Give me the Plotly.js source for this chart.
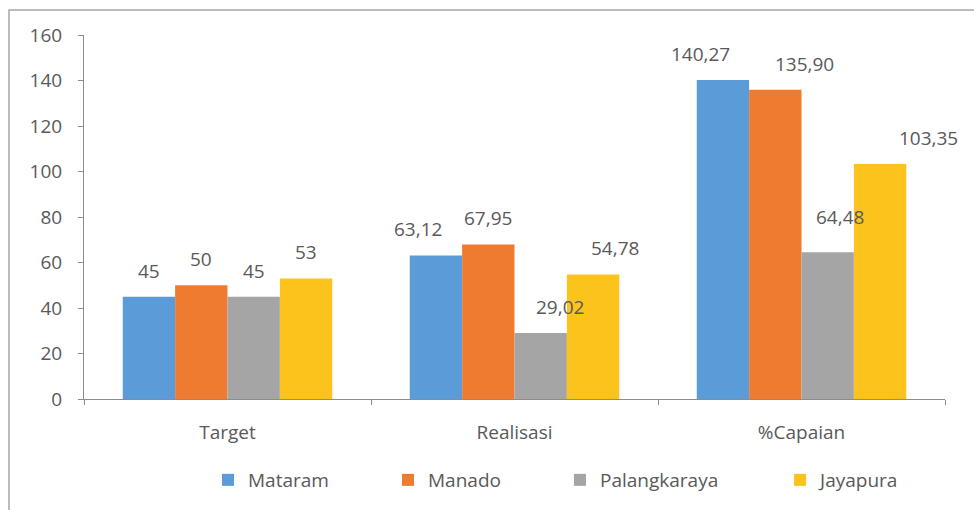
<!DOCTYPE html>
<html>
<head>
<meta charset="utf-8">
<script src="https://cdn.plot.ly/plotly-3.0.1.min.js"></script>
<style>
  body { margin: 0; background: #fff; }
  #chart { width: 974px; height: 510px; }
</style>
</head>
<body>
<div id="chart"></div>
<script>
// categories on the x axis
var categories = ['Target', 'Realisasi', '%Capaian'];

// one series per city
var mataram = [45, 63.12, 140.27];
var manado = [50, 67.95, 135.90];
var palangkaraya = [45, 29.02, 64.48];
var jayapura = [53, 54.78, 103.35];

var seriesNames = ['Mataram', 'Manado', 'Palangkaraya', 'Jayapura'];
var seriesValues = [mataram, manado, palangkaraya, jayapura];
var seriesColors = ['#5a9bd8', '#ef7b30', '#a5a5a5', '#fcc31c'];

var FONT = 'Open Sans, sans-serif';

// layout bits
var W = 974, H = 510;
var M = { l: 84, r: 29, t: 35, b: 111 };
var BARGAP = 0.27;
// Excel moved a few labels sideways (px) so they don't collide
var labelNudgeX = [[0, -18, -22], [0, 0, 29], [0, 19, 12], [0, 22, 48]];
var labelNudgeY = [[0, 0, 0], [0, 0, 0], [0, 0, 9], [0, 0, 0]];
// legend entries placed one by one (paper x)
var legendX = [0.144, 0.3531, 0.5528, 0.8084];

// Excel style labels: comma decimal, integers stay integers
function fmt(v) {
    if (Number.isInteger(v)) return String(v);
    return v.toFixed(2).replace('.', ',');
}

var plotW = W - M.l - M.r;
var barPx = plotW / categories.length * (1 - BARGAP) / seriesNames.length;

var traces = [];
var annotations = [];
seriesNames.forEach((name, i) => {
    traces.push({
        x: categories,
        y: seriesValues[i],
        name: name,
        type: 'bar',
        marker: { color: seriesColors[i] },
        legend: i === 0 ? 'legend' : 'legend' + (i + 1),
        hoverinfo: 'x+y+name'
    });
    seriesValues[i].forEach((v, j) => {
        annotations.push({
            x: categories[j],
            y: v,
            xref: 'x', yref: 'y',
            text: fmt(v),
            showarrow: false,
            xanchor: 'center',
            yanchor: 'bottom',
            xshift: (i - (seriesNames.length - 1) / 2) * barPx + labelNudgeX[i][j],
            yshift: 11 + labelNudgeY[i][j],
            font: { family: FONT, size: 19, color: '#595959' }
        });
    });
});

var layout = {
    width: W,
    height: H,
    barmode: 'group',
    bargap: BARGAP,
    bargroupgap: 0,
    paper_bgcolor: '#ffffff',
    plot_bgcolor: '#ffffff',
    margin: { l: M.l, r: M.r, t: M.t, b: M.b, pad: 0, autoexpand: false },
    font: { family: FONT, color: '#595959', size: 19 },
    showlegend: true,
    annotations: annotations,
    xaxis: {
        // fixed range so the label annotations don't widen the axis
        range: [-0.5, categories.length - 0.5],
        autorange: false,
        showline: true,
        linecolor: '#8c8c8c',
        linewidth: 1,
        ticks: 'outside',
        tickson: 'boundaries',
        ticklen: 5,
        tickcolor: '#8c8c8c',
        ticklabelstandoff: 16,
        tickfont: { family: FONT, size: 19, color: '#595959' },
        showgrid: false,
        zeroline: false
    },
    yaxis: {
        range: [0, 160],
        autorange: false,
        dtick: 20,
        showline: true,
        linecolor: '#8c8c8c',
        linewidth: 1,
        ticks: 'outside',
        ticklen: 5,
        tickcolor: '#8c8c8c',
        ticklabelstandoff: 12,
        tickfont: { family: FONT, size: 19, color: '#595959' },
        showgrid: false,
        zeroline: false
    },
    shapes: [{
        // outer chart border, cropped at right and bottom in the reference
        type: 'rect',
        xref: 'paper', yref: 'paper',
        x0: -0.0871, x1: 1.05,
        y0: -0.35, y1: 1.0687,
        line: { color: '#a6a6a6', width: 1.5 },
        fillcolor: 'rgba(0,0,0,0)',
        layer: 'below'
    }]
};

legendX.forEach((lx, i) => {
    layout[i === 0 ? 'legend' : 'legend' + (i + 1)] = {
        orientation: 'h',
        x: lx,
        xanchor: 'left',
        y: -0.2225,
        yanchor: 'middle',
        font: { family: FONT, size: 19, color: '#595959' },
        bgcolor: 'rgba(0,0,0,0)',
        itemwidth: 30
    };
});

Plotly.newPlot('chart', traces, layout, { displayModeBar: false, staticPlot: true });
</script>
</body>
</html>
